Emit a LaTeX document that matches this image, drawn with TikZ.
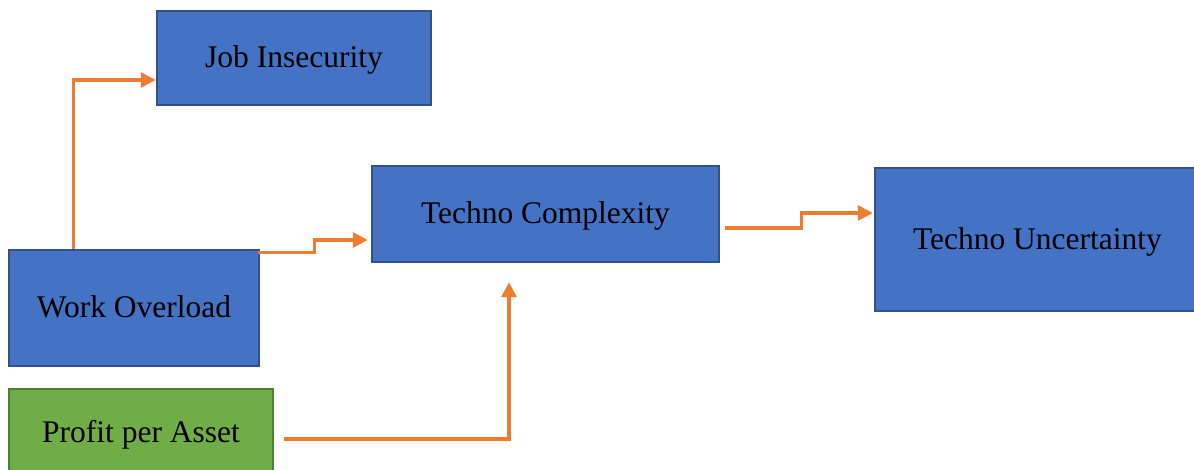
\documentclass[tikz,border=0pt]{standalone}
\usepackage{fontspec}
\setmainfont{Liberation Serif}
\usetikzlibrary{arrows.meta,calc}
\definecolor{boxblue}{HTML}{4472C4}
\definecolor{boxblueline}{HTML}{2F528F}
\definecolor{boxgreen}{HTML}{70AD47}
\definecolor{boxgreenline}{HTML}{507E32}
\definecolor{arrorange}{HTML}{ED7D31}
\tikzset{
  bluebox/.style={draw=boxblueline, fill=boxblue, line width=2.5pt, inner sep=0pt,
    text height=20pt, text depth=0pt,
    font=\fontsize{31.5}{36}\selectfont},
  greenbox/.style={bluebox, draw=boxgreenline, fill=boxgreen},
  arr/.style={draw=arrorange, line width=3.3pt, -{Triangle[length=15pt,width=15pt]}}
}
\begin{document}
\begin{tikzpicture}[x=1pt,y=1pt]
\useasboundingbox[fill=white] (0,0) rectangle (1194,470);
\node[bluebox, minimum width=274pt, minimum height=94pt] (ji) at (294,412) {Job Insecurity};
\node[bluebox, minimum width=347pt, minimum height=96pt] (tc) at (545.5,256) {Techno Complexity};
\node[bluebox, minimum width=325pt, minimum height=143pt] (tu) at (1037.5,230.5) {Techno Uncertainty};
\node[bluebox, minimum width=250pt, minimum height=116pt] (wo) at (134,162) {Work Overload};
\node[greenbox, minimum width=264pt, minimum height=87pt] (pa) at (141,37.5) {Profit per Asset};
% connectors
\draw[arr] ([xshift=66pt]wo.north west) |- ([yshift=-22pt]ji.west);
\draw[arr, shorten >=3pt] ([xshift=-2pt,yshift=-4pt]wo.north east) -- ++(56,0) |- ([yshift=-26pt]tc.west);
\coordinate (pstart) at ([xshift=10pt,yshift=-6.5pt]pa.east);
\coordinate (pend) at ([xshift=-36.5pt,yshift=-19pt]tc.south);
\draw[arr] (pstart) -| (pend);
\draw[arr, shorten >=1pt] ([xshift=5pt,yshift=-14pt]tc.east) -- ++(76,0) |- ([yshift=26.5pt]tu.west);
\end{tikzpicture}
\end{document}
